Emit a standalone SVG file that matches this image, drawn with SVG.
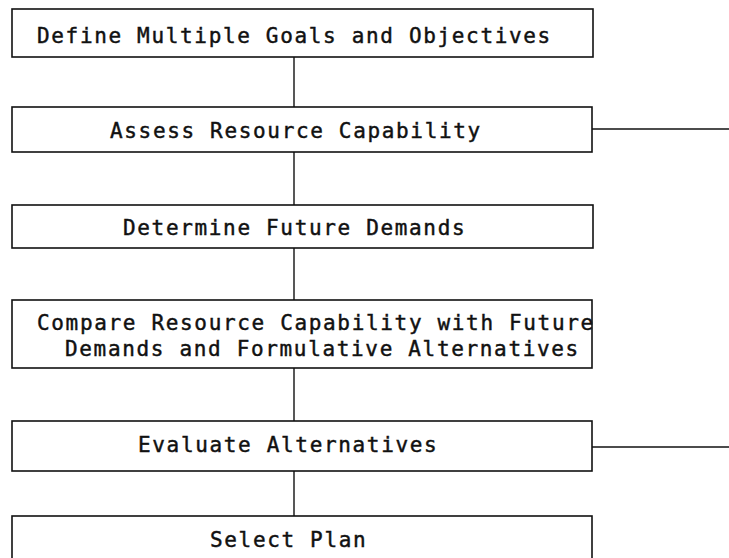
<svg xmlns="http://www.w3.org/2000/svg" width="729" height="558" viewBox="0 0 729 558">
  <style>
    .box { fill: #ffffff; stroke: #111111; stroke-width: 1.6; }
    .lbl { font-family: "DejaVu Sans Mono", "Liberation Mono", monospace; font-size: 21px; letter-spacing: 1.66px; fill: #111111; stroke: #111111; stroke-width: 0.45; }
    .wire { stroke: #111111; stroke-width: 1.4; fill: none; }
  </style>
  <rect width="729" height="558" fill="#ffffff"/>

  <!-- connectors -->
  <g id="connectors">
    <line class="wire" x1="294" y1="57" x2="294" y2="107"/>
    <line class="wire" x1="294" y1="152" x2="294" y2="205"/>
    <line class="wire" x1="294" y1="248" x2="294" y2="300"/>
    <line class="wire" x1="294" y1="368" x2="294" y2="421"/>
    <line class="wire" x1="294" y1="471" x2="294" y2="516"/>
    <line class="wire" x1="592" y1="129" x2="729" y2="129"/>
    <line class="wire" x1="592" y1="447" x2="729" y2="447"/>
  </g>

  <g id="define-goals">
    <rect class="box" x="12" y="9" width="581" height="48"/>
    <text class="lbl" x="37" y="43">Define Multiple Goals and Objectives</text>
  </g>

  <g id="assess-capability">
    <rect class="box" x="12" y="107" width="580" height="45"/>
    <text class="lbl" x="110" y="138">Assess Resource Capability</text>
  </g>

  <g id="future-demands">
    <rect class="box" x="12" y="205" width="581" height="43"/>
    <text class="lbl" x="123" y="235">Determine Future Demands</text>
  </g>

  <g id="compare-formulate">
    <rect class="box" x="12" y="300" width="580" height="68"/>
    <text class="lbl" x="37" y="330">Compare Resource Capability with Future</text>
    <text class="lbl" x="65" y="356">Demands and Formulative Alternatives</text>
  </g>

  <g id="evaluate-alternatives">
    <rect class="box" x="12" y="421" width="580" height="50"/>
    <text class="lbl" x="138" y="452">Evaluate Alternatives</text>
  </g>

  <g id="select-plan">
    <rect class="box" x="12" y="516" width="580" height="50"/>
    <text class="lbl" x="210" y="547">Select Plan</text>
  </g>
</svg>
